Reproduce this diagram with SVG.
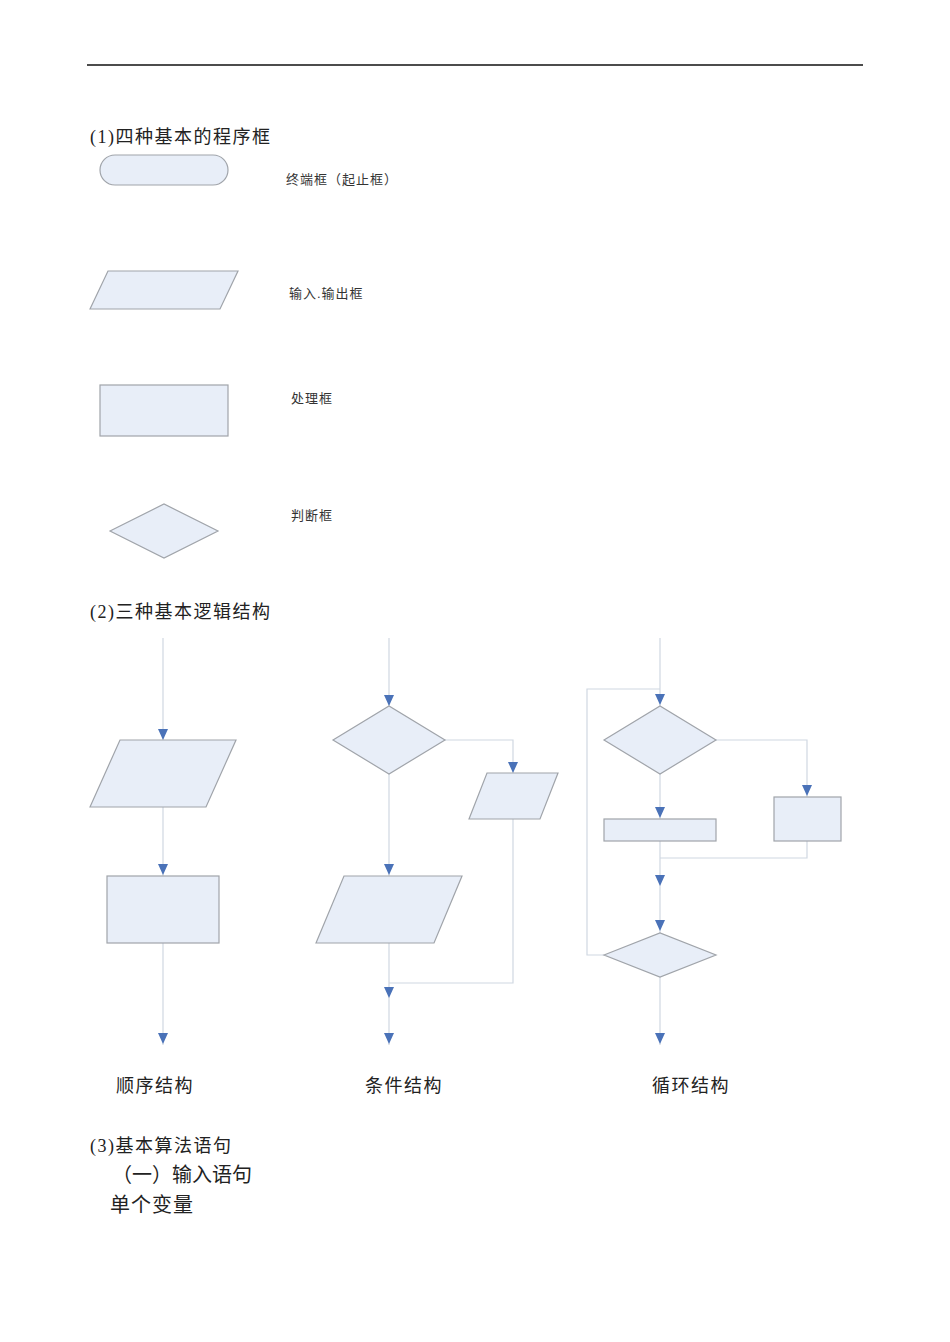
<svg xmlns="http://www.w3.org/2000/svg" xmlns:xlink="http://www.w3.org/1999/xlink" width="950" height="1342" viewBox="0 0 950 1342">
<style>
.s{fill:#e8eef8;stroke:#a0a4aa;stroke-width:1.2}
.c{fill:none;stroke:#d0d8e2;stroke-width:1.2}
.h{font-family:"Liberation Serif","Noto Sans CJK SC",serif;font-size:18px;fill:#222;letter-spacing:1.5px}
.l{font-family:"Liberation Sans","Noto Sans CJK SC",sans-serif;font-size:13px;fill:#333;letter-spacing:1px}
</style>
<defs><path id="a" d="M-5,-7 L5,-7 L0,4 Z" fill="#4a72b8"/></defs>
<rect width="950" height="1342" fill="#fff"/>
<line x1="87" y1="65" x2="863" y2="65" stroke="#111" stroke-width="1.5"/>
<text class="h" x="90" y="143">(1)四种基本的程序框</text>
<g id="terminal"><rect class="s" x="100" y="155" width="128" height="30" rx="15"/></g>
<text class="l" x="286" y="184">终端框（起止框）</text>
<g id="io"><polygon class="s" points="90,309 108,271 238,271 220,309"/></g>
<text class="l" x="289" y="298">输入.输出框</text>
<g id="process"><rect class="s" x="100" y="385" width="128" height="51"/></g>
<text class="l" x="291" y="403">处理框</text>
<g id="decision"><polygon class="s" points="110,531 164,504 218,531 164,558"/></g>
<text class="l" x="291" y="520">判断框</text>
<text class="h" x="90" y="618">(2)三种基本逻辑结构</text>
<g id="connectors">
<path class="c" d="M163,638V740 M163,807V876 M163,943V1045"/>
<path class="c" d="M389,638V706 M445,740H513V773 M513,819V983H389 M389,774V876 M389,943V1045"/>
<path class="c" d="M660,638V706 M604,955H587V689H660 M660,774V819 M716,740H807V797 M807,841V858H660 M660,841V933 M660,977V1045"/>
<use href="#a" x="163" y="736"/><use href="#a" x="163" y="871"/><use href="#a" x="163" y="1040"/>
<use href="#a" x="389" y="702"/><use href="#a" x="513" y="769"/><use href="#a" x="389" y="871"/><use href="#a" x="389" y="994"/><use href="#a" x="389" y="1040"/>
<use href="#a" x="660" y="701"/><use href="#a" x="660" y="814"/><use href="#a" x="807" y="792"/><use href="#a" x="660" y="882"/><use href="#a" x="660" y="927"/><use href="#a" x="660" y="1040"/>
</g>
<g id="seq-io"><polygon class="s" points="90,807 120,740 236,740 206,807"/></g>
<g id="seq-proc"><rect class="s" x="107" y="876" width="112" height="67"/></g>
<g id="cond-dec"><polygon class="s" points="333,740 389,706 445,740 389,774"/></g>
<g id="cond-io1"><polygon class="s" points="469,819 487,773 558,773 540,819"/></g>
<g id="cond-io2"><polygon class="s" points="316,943 344,876 462,876 434,943"/></g>
<g id="loop-dec1"><polygon class="s" points="604,740 660,706 716,740 660,774"/></g>
<g id="loop-proc1"><rect class="s" x="604" y="819" width="112" height="22"/></g>
<g id="loop-proc2"><rect class="s" x="774" y="797" width="67" height="44"/></g>
<g id="loop-dec2"><polygon class="s" points="604,955 660,933 716,955 660,977"/></g>
<text class="h" x="116" y="1092">顺序结构</text>
<text class="h" x="365" y="1092">条件结构</text>
<text class="h" x="652" y="1092">循环结构</text>
<text class="h" x="90" y="1152">(3)基本算法语句</text>
<text class="h" x="112" y="1182" style="font-size:20px;letter-spacing:0">（一）输入语句</text>
<text class="h" x="110" y="1212" style="font-size:20px;letter-spacing:1px">单个变量</text>
</svg>
